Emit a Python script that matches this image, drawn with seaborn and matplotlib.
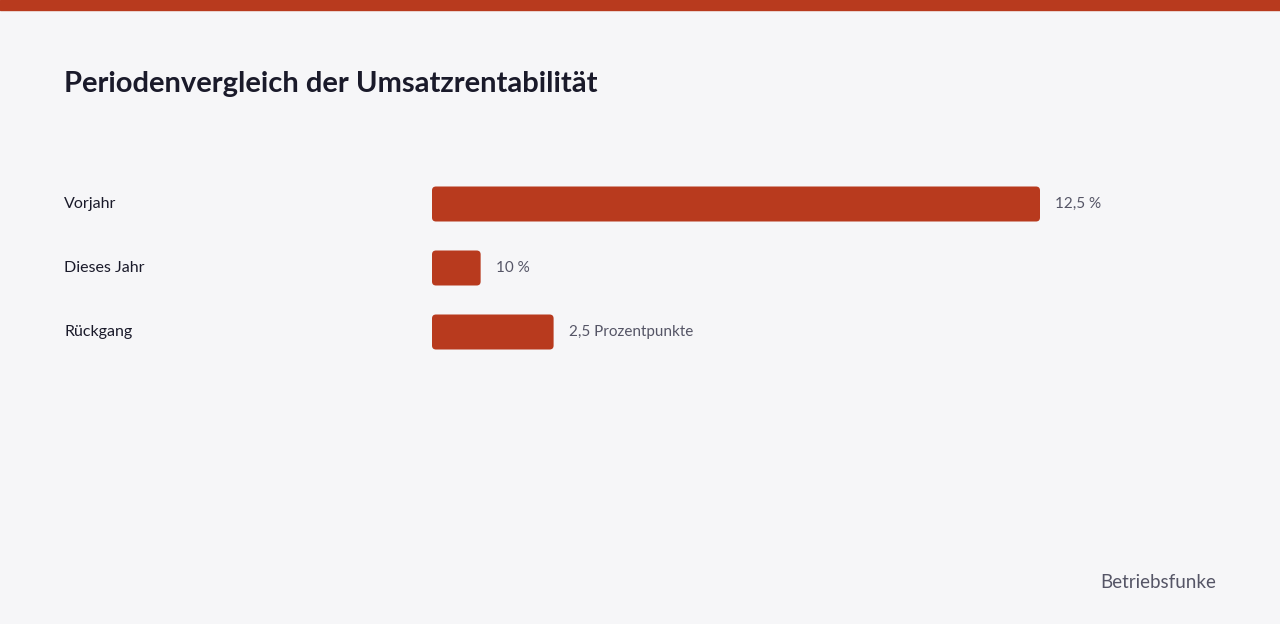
import matplotlib
matplotlib.use("Agg")
import matplotlib.pyplot as plt
import seaborn as sns
import pandas as pd
from matplotlib.patches import FancyBboxPatch, Rectangle

categories = ["Vorjahr", "Dieses Jahr", "Rückgang"]
bar_lengths = [12.5, 1.0, 2.5]          # lengths as drawn in the reference
value_labels = ["12,5 %", "10 %", "2,5 Prozentpunkte"]
title = "Periodenvergleich der Umsatzrentabilität"
footer = "Betriebsfunke"

RED = "#b83a1e"
BG = "#f6f6f8"
DARK = "#1a1a2a"
GREY = "#555566"

sns.set_theme(style="white")
plt.rcParams["font.family"] = ["Lato", "DejaVu Sans"]

W, H = 1280, 624
fig = plt.figure(figsize=(W / 100, H / 100), dpi=100, facecolor=BG)
fig.patches.append(Rectangle((0, 1 - 10 / H), 1, 10 / H, transform=fig.transFigure,
                             color=RED, zorder=0))
fig.text(64 / W, 1 - 84 / H, title, fontsize=21, fontweight="bold", color=DARK,
         va="center", ha="left")
fig.text(1216 / W, 1 - 582 / H, footer, fontsize=13.5, color=GREY, va="center", ha="right")

ax_left, ax_right = 432, 1216
ax = fig.add_axes([ax_left / W, 1 - 364 / H, (ax_right - ax_left) / W, 192 / H])
ax.set_facecolor(BG)
px_per_unit = 608 / 12.5
xmax = (ax_right - ax_left) / px_per_unit

df = pd.DataFrame({"cat": categories, "val": bar_lengths})
sns.barplot(data=df, x="val", y="cat", orient="h", color=RED, width=35 / 64, ax=ax,
            saturation=1)
ax.set_xlim(0, xmax)
ax.set_ylim(2.5, -0.5)

# replace rectangles with rounded ones
for p in list(ax.patches):
    x, y, w, h = p.get_x(), p.get_y(), p.get_width(), p.get_height()
    p.remove()
    fb = FancyBboxPatch((x, y), w, h,
                        boxstyle=f"round,pad=0,rounding_size={4/px_per_unit}",
                        mutation_aspect=px_per_unit / 64,
                        facecolor=RED, edgecolor="none")
    ax.add_patch(fb)
    ax.text(x + w + 15 / px_per_unit, y + h / 2, value_labels[int(round(y + h / 2))],
            va="center", ha="left", fontsize=11, color=GREY)

for i, c in enumerate(categories):
    ax.text(-(ax_left - 64) / px_per_unit, i, c, va="center", ha="left",
            fontsize=11.5, color=DARK, clip_on=False)

ax.set_axis_off()
fig.savefig("out.png", dpi=100, facecolor=BG)
